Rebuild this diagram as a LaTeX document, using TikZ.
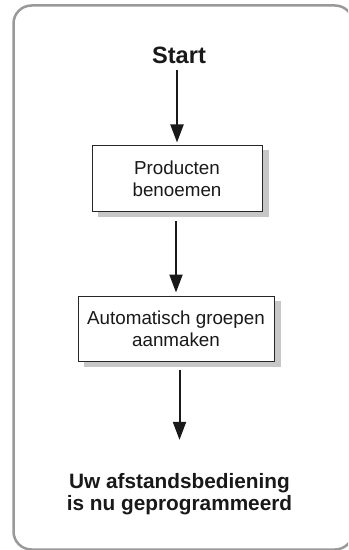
\documentclass[tikz,border=0pt]{standalone}
\usepackage{fontspec}
\setmainfont{Liberation Sans}
\usetikzlibrary{arrows.meta,backgrounds,calc}

\begin{document}
\begin{tikzpicture}[x=0.5pt, y=-0.5pt,
    kader/.style={draw=black!40, line width=1.25pt, rounded corners=9pt},
    stap/.style={draw=black!85, line width=0.5pt, fill=white, align=center,
        minimum width=85pt, minimum height=33pt, inner sep=0pt,
        font=\fontsize{9.4}{11}\selectfont, text=black!90},
    schaduw/.style={fill=black!22},
    titel/.style={align=center, inner sep=0pt, text=black!90},
    pijl/.style={-{Triangle[length=9pt,width=6.5pt]}, line width=1pt, black!90}]
    \useasboundingbox (0,0) rectangle (348,550);

    % Frame (cut off at the right)
    \begin{scope}
        \clip (0,0) rectangle (348,550);
        \draw[kader] (13.5,5.5) rectangle (353,549.5);
    \end{scope}

    % Start
    \node[titel, font=\fontsize{11.8}{13}\selectfont\bfseries] (start) at (179,55) {Start};

    % Steps
    \node[stap] (benoemen) at (177,179) {Producten\\benoemen};
    \node[stap, minimum width=98pt, minimum height=32.5pt] (groepen) at (176,328.5) {Automatisch groepen\\aanmaken};

    % Shadows behind the steps
    \begin{scope}[on background layer]
        \fill[schaduw] ($(benoemen.south west)+(6,5)$) rectangle ($(benoemen.north east)+(6,5)$);
        \fill[schaduw] ($(groepen.south west)+(6,5)$) rectangle ($(groepen.north east)+(6,5)$);
    \end{scope}

    % End
    \node[titel, font=\fontsize{10.4}{11}\selectfont\bfseries] (klaar) at (179.5,494) {Uw afstandsbediening\\is nu geprogrammeerd};

    % Arrows
    \draw[pijl, shorten <=3.3pt, shorten >=1.5pt] (start.south -| benoemen) -- (benoemen.north);
    \draw[pijl, shorten <=4.5pt, shorten >=1.5pt] (benoemen.south -| groepen) -- (groepen.north);
    \draw[pijl, shorten <=4pt, shorten >=16.5pt] (groepen.south -| klaar) -- (klaar.north);
\end{tikzpicture}
\end{document}
